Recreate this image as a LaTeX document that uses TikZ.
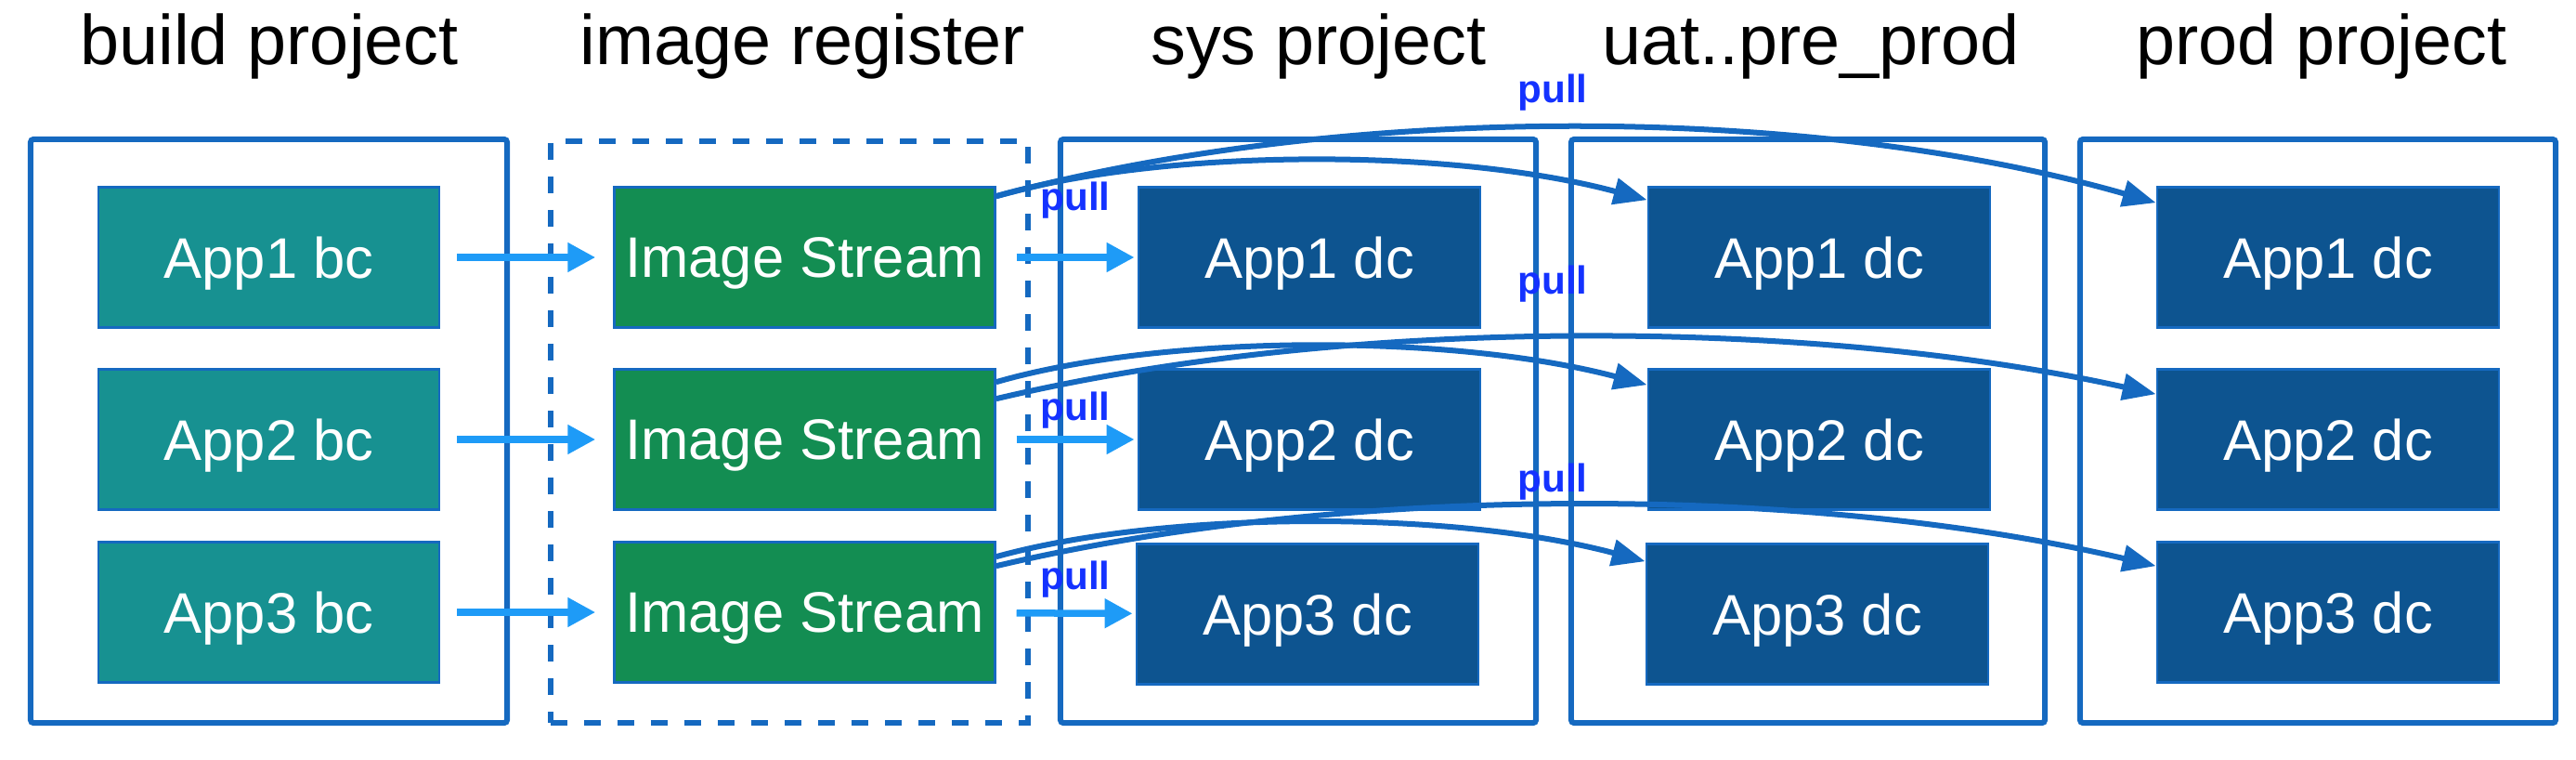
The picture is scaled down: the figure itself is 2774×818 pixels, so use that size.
\documentclass[tikz,border=0pt]{standalone}
\usepackage{fontspec}
\setmainfont{Liberation Sans}
\usetikzlibrary{arrows.meta,calc}
\definecolor{frameblue}{RGB}{21,105,192}
\definecolor{bcteal}{RGB}{23,145,145}
\definecolor{isgreen}{RGB}{19,141,82}
\definecolor{dcblue}{RGB}{13,84,144}
\definecolor{feedblue}{RGB}{30,155,247}
\definecolor{pullblue}{RGB}{20,50,255}
\tikzset{
	prj/.style={draw=frameblue, line width=0.06cm, rounded corners=1pt, minimum width=5.12cm, minimum height=6.28cm},
	title/.style={anchor=base, font=\fontsize{21.5}{25}\selectfont},
	app/.style={draw=frameblue, line width=0.025cm, text=white, font=\fontsize{17.5}{21}\selectfont, text depth=0pt, minimum height=1.51cm},
	bcbox/.style={app, fill=bcteal, minimum width=3.67cm},
	isbox/.style={app, fill=isgreen, minimum width=4.09cm},
	dcbox/.style={app, fill=dcblue, minimum width=3.68cm},
	feed/.style={draw=feedblue, line width=0.075cm, -{Triangle[length=0.3cm,width=0.3cm]}},
	pullarrow/.style={draw=frameblue, line width=0.06cm, -{Triangle[length=0.36cm,width=0.28cm]}},
	pulltext/.style={text=pullblue, font=\bfseries\fontsize{12}{14}\selectfont, inner sep=0pt}
}

\begin{document}
\begin{tikzpicture}[x=0.01cm, y=-0.01cm]
		%%%%% START %%%%%
		\useasboundingbox (0, 0) rectangle (2774, 818);
		
		% titles
		\node[title] (tbuild) at (290, 70) {build project};
		\node[title] (treg) at (864, 70) {image register};
		\node[title] (tsys) at (1420, 70) {sys project};
		\node[title] (tuat) at (1950, 70) {uat..pre\_prod};
		\node[title] (tprod) at (2500, 70) {prod project};
		
		% project frames
		\node[prj, minimum width=5.13cm] (build) at (289.5, 464) {};
		\node[prj, rounded corners=0pt, dash pattern=on 0.18cm off 0.18cm, minimum width=5.14cm, minimum height=6.26cm] (imgreg) at (850, 465) {};
		\node[prj] (sys) at (1398, 464) {};
		\node[prj, minimum width=5.10cm] (uat) at (1947, 464) {};
		\node[prj] (prod) at (2496, 464) {};
		
		% build configs
		\node[bcbox] (bc1) at (289.5, 277) {App1 bc};
		\node[bcbox] (bc2) at (289.5, 473) {App2 bc};
		\node[bcbox] (bc3) at (289.5, 659) {App3 bc};
		
		% image streams
		\node[isbox] (is1) at (866.5, 277) {Image Stream};
		\node[isbox] (is2) at (866.5, 473) {Image Stream};
		\node[isbox] (is3) at (866.5, 659) {Image Stream};
		
		% deployment configs
		\node[dcbox] (sys1) at (1410, 277) {App1 dc};
		\node[dcbox] (sys2) at (1410, 473) {App2 dc};
		\node[dcbox] (sys3) at (1408, 661) {App3 dc};
		\node[dcbox] (uat1) at (1959, 277) {App1 dc};
		\node[dcbox] (uat2) at (1959, 473) {App2 dc};
		\node[dcbox] (uat3) at (1957, 661) {App3 dc};
		\node[dcbox] (prod1) at (2507, 277) {App1 dc};
		\node[dcbox] (prod2) at (2507, 473) {App2 dc};
		\node[dcbox] (prod3) at (2507, 659) {App3 dc};
		
		% build -> image stream -> sys
		\foreach \r in {1,2,3} {
			\draw[feed, shorten <=0.18cm, shorten >=0.19cm] (bc\r) -- (is\r);
			\draw[feed, shorten <=0.22cm, shorten >=0.03cm] (is\r) -- (sys\r);
		}
		
		% pulls to uat and prod
		\draw[pullarrow] ($(is1.north east)+(0, 11)$) .. controls (1250, 160) and (1560, 158) .. ($(uat1.north west)+(0, 15)$);
		\draw[pullarrow] ($(is1.north east)+(0, 11)$) .. controls (1450, 110) and (1950, 112) .. ($(prod1.north west)+(0, 18)$);
		\draw[pullarrow] ($(is2.north east)+(0, 15)$) .. controls (1250, 360) and (1560, 358) .. ($(uat2.north west)+(0, 18)$);
		\draw[pullarrow] ($(is2.north east)+(0, 33)$) .. controls (1450, 340) and (1950, 342) .. ($(prod2.north west)+(0, 28)$);
		\draw[pullarrow] ($(is3.north east)+(0, 17)$) .. controls (1250, 550) and (1560, 548) .. ($(uat3.north west)+(0, 20)$);
		\draw[pullarrow] ($(is3.north east)+(0, 27)$) .. controls (1450, 520) and (1950, 522) .. ($(prod3.north west)+(0, 27)$);
		
		% labels
		\node[pulltext] (p1) at (1158, 216) {pull};
		\node[pulltext] (p2) at (1158, 442) {pull};
		\node[pulltext] (p3) at (1158, 624) {pull};
		\node[pulltext] (q1) at (1672, 100) {pull};
		\node[pulltext] (q2) at (1672, 306) {pull};
		\node[pulltext] (q3) at (1672, 519) {pull};
		
		%%%%% END %%%%%
	\end{tikzpicture}
\end{document}
